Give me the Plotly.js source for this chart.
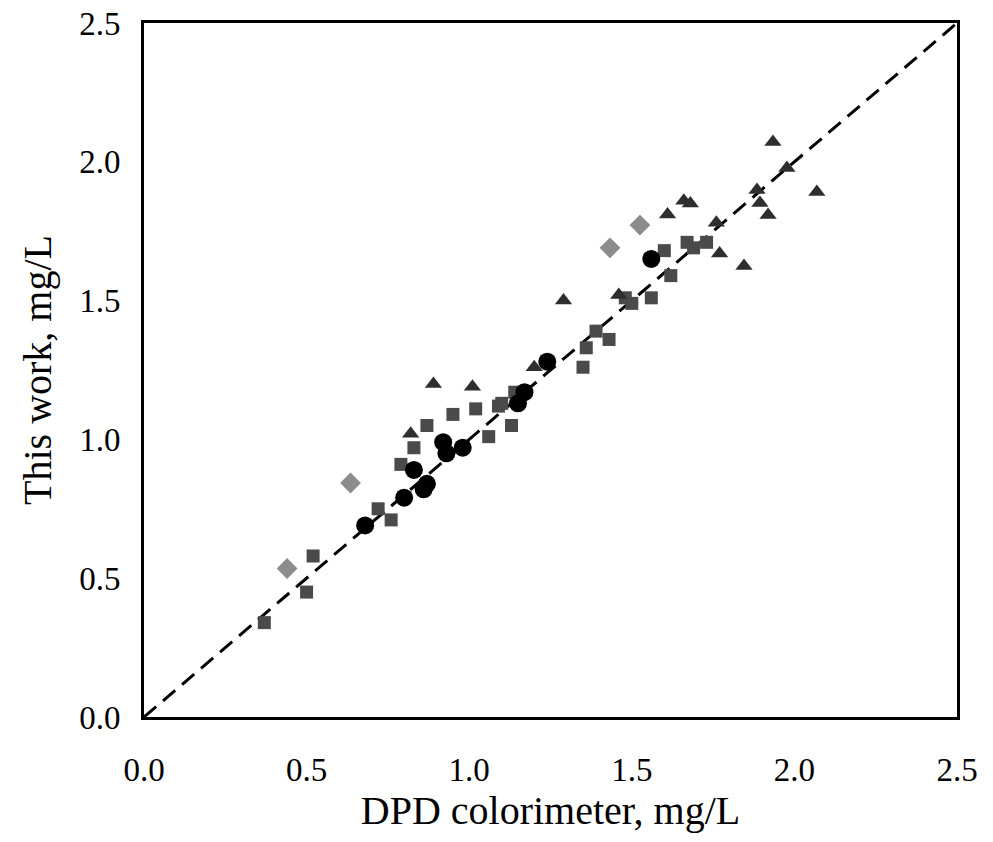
<!DOCTYPE html>
<html>
<head>
<meta charset="utf-8">
<script src="https://cdn.plot.ly/plotly-3.0.1.min.js"></script>
<style>html,body{margin:0;padding:0;background:#fff;}#chart{width:993px;height:842px;}</style>
</head>
<body>
<div id="chart"></div>
<script>
// Data (x: DPD colorimeter, y: this work, mg/L)
const circlesX = [0.68, 0.80, 0.83, 0.87, 0.86, 0.92, 0.93, 0.98, 1.15, 1.17, 1.24, 1.56];
const circlesY = [0.69, 0.79, 0.89, 0.84, 0.82, 0.99, 0.95, 0.97, 1.13, 1.17, 1.28, 1.65];

const squaresX = [0.37, 0.50, 0.52, 0.72, 0.76, 0.79, 0.83, 0.87, 0.93, 0.95, 1.02, 1.06, 1.09, 1.10, 1.13, 1.14, 1.35, 1.36, 1.39, 1.43, 1.48, 1.50, 1.56, 1.60, 1.62, 1.67, 1.69, 1.73];
const squaresY = [0.34, 0.45, 0.58, 0.75, 0.71, 0.91, 0.97, 1.05, 0.95, 1.09, 1.11, 1.01, 1.12, 1.13, 1.05, 1.17, 1.26, 1.33, 1.39, 1.36, 1.51, 1.49, 1.51, 1.68, 1.59, 1.71, 1.69, 1.71];

const trianglesX = [0.82, 0.89, 1.01, 1.20, 1.29, 1.46, 1.61, 1.66, 1.68, 1.76, 1.77, 1.845, 1.885, 1.894, 1.919, 1.934, 1.977, 2.069];
const trianglesY = [1.02, 1.20, 1.19, 1.26, 1.50, 1.52, 1.81, 1.86, 1.85, 1.78, 1.67, 1.625, 1.898, 1.852, 1.808, 2.071, 1.978, 1.891];

const diamondsX = [0.44, 0.635, 1.433, 1.525];
const diamondsY = [0.535, 0.843, 1.69, 1.772];

const lineX = [0, 2.5];
const lineY = [0, 2.5];

const tickVals = [0, 0.5, 1.0, 1.5, 2.0, 2.5];
const tickText = ['0.0', '0.5', '1.0', '1.5', '2.0', '2.5'];

const FONT = 'Liberation Serif, Times New Roman, serif';

const traces = [
  {x: lineX, y: lineY, mode: 'lines', type: 'scatter', line: {color: '#000', width: 3, dash: '16px,9px'}, hoverinfo: 'skip'},
  {x: diamondsX, y: diamondsY, mode: 'markers', type: 'scatter', marker: {symbol: 'diamond', size: 16, color: '#8c8c8c'}},
  {x: squaresX, y: squaresY, mode: 'markers', type: 'scatter', marker: {symbol: 'square', size: 13, color: '#4a4a4a'}},
  {x: trianglesX, y: trianglesY, mode: 'markers', type: 'scatter', marker: {symbol: 'triangle-up', size: 15, color: '#2e2e2e'}},
  {x: circlesX, y: circlesY, mode: 'markers', type: 'scatter', marker: {symbol: 'circle', size: 18, color: '#000'}}
];

const axisCommon = {
  range: [0, 2.5],
  tickvals: tickVals,
  ticktext: tickText,
  showgrid: false,
  zeroline: false,
  showline: true,
  mirror: true,
  linecolor: '#000',
  linewidth: 3,
  ticks: 'outside',
  tickcolor: 'rgba(0,0,0,0)',
  tickfont: {family: FONT, size: 33, color: '#000'}
};

const layout = {
  width: 993,
  height: 842,
  margin: {l: 144, r: 36, t: 23, b: 125},
  paper_bgcolor: '#fff',
  plot_bgcolor: '#fff',
  showlegend: false,
  xaxis: Object.assign({}, axisCommon, {
    ticklen: 21,
    title: {text: 'DPD colorimeter, mg/L', font: {family: FONT, size: 40, color: '#000'}, standoff: 6}
  }),
  yaxis: Object.assign({}, axisCommon, {
    ticklen: 14,
    title: {text: 'This work, mg/L', font: {family: FONT, size: 40, color: '#000'}, standoff: 16}
  })
};

Plotly.newPlot('chart', traces, layout, {displayModeBar: false, staticPlot: true});
</script>
</body>
</html>
